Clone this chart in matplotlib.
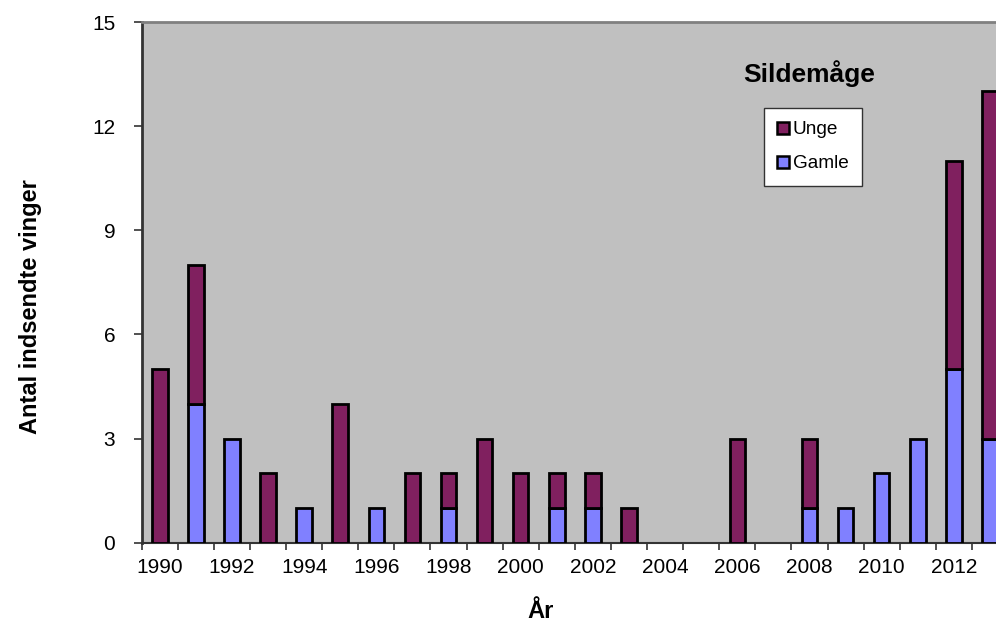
import matplotlib
matplotlib.use("Agg")
import matplotlib.pyplot as plt
from matplotlib.patches import Patch
import numpy as np

plt.rcParams['font.family'] = ['Liberation Sans', 'DejaVu Sans']

years = list(range(1990, 2014))
gamle = [0, 4, 3, 0, 1, 0, 1, 0, 1, 0, 0, 1, 1, 0, 0, 0, 0, 0, 1, 1, 2, 3, 5, 3]
unge  = [5, 4, 0, 2, 0, 4, 0, 2, 1, 3, 2, 1, 1, 1, 0, 0, 3, 0, 2, 0, 0, 0, 6, 10]
yticks = [0, 3, 6, 9, 12, 15]
title = "Sildemåge"
xlabel = "År"
ylabel = "Antal indsendte vinger"

c_unge = "#80205F"
c_gamle = "#8080FF"

W, H = 996, 626
fig = plt.figure(figsize=(W / 100, H / 100), dpi=100)
left, right, top, bottom = 141.7, 1008.0, 22.0, 542.7
ax = fig.add_axes([left / W, 1 - bottom / H, (right - left) / W, (bottom - top) / H])
ax.set_facecolor("#C0C0C0")

x = np.arange(len(years))
bw = 0.43
g = np.array(gamle)
u = np.array(unge)
mg = g > 0
mu = u > 0
ax.bar(x[mg], g[mg], width=bw, color=c_gamle, edgecolor="black", linewidth=2.0, zorder=3)
ax.bar(x[mu], u[mu], width=bw, bottom=g[mu], color=c_unge, edgecolor="black", linewidth=2.0, zorder=3)

ax.set_xlim(-0.5, len(years) - 0.5)
ax.set_ylim(0, 15)
ax.set_yticks(yticks)
ax.set_yticklabels([str(v) for v in yticks], fontsize=15)
ax.tick_params(axis='y', length=6, width=1.2, pad=13, color="#333333")

ax.set_xticks(x[::2])
ax.set_xticklabels([str(y) for y in years[::2]], fontsize=15)
ax.set_xticks(np.arange(len(years) + 1) - 0.5, minor=True)
ax.tick_params(axis='x', which='major', length=0, pad=11)
ax.tick_params(axis='x', which='minor', length=5, width=1.2, color="#333333")

ax.spines['top'].set_color("#808080")
ax.spines['top'].set_linewidth(2)
ax.spines['right'].set_visible(False)
ax.spines['left'].set_color("#333333")
ax.spines['left'].set_linewidth(2)
ax.spines['bottom'].set_color("#333333")
ax.spines['bottom'].set_linewidth(1.5)

fig.text(809 / W, 1 - 82 / H, title, fontsize=19, fontweight='bold', ha='center', va='baseline')
fig.text(541 / W, 1 - 612 / H, xlabel, fontsize=17, fontweight='bold', ha='center', va='center')
fig.text(30 / W, 1 - 307 / H, ylabel, fontsize=17, fontweight='bold', ha='center', va='center', rotation=90)

handles = [Patch(facecolor=c_unge, edgecolor="black", linewidth=1.8, label="Unge"),
           Patch(facecolor=c_gamle, edgecolor="black", linewidth=1.8, label="Gamle")]
leg = fig.legend(handles=handles, loc='upper left', bbox_to_anchor=(764 / W, 1 - 108 / H),
                 bbox_transform=fig.transFigure, borderaxespad=0, fontsize=13.7,
                 handlelength=0.6, handleheight=0.6, handletextpad=0.2, labelspacing=0.9,
                 borderpad=0.7, fancybox=False, framealpha=1, edgecolor="#333333")
leg.get_frame().set_linewidth(1.0)

fig.savefig("out.png", dpi=100)
